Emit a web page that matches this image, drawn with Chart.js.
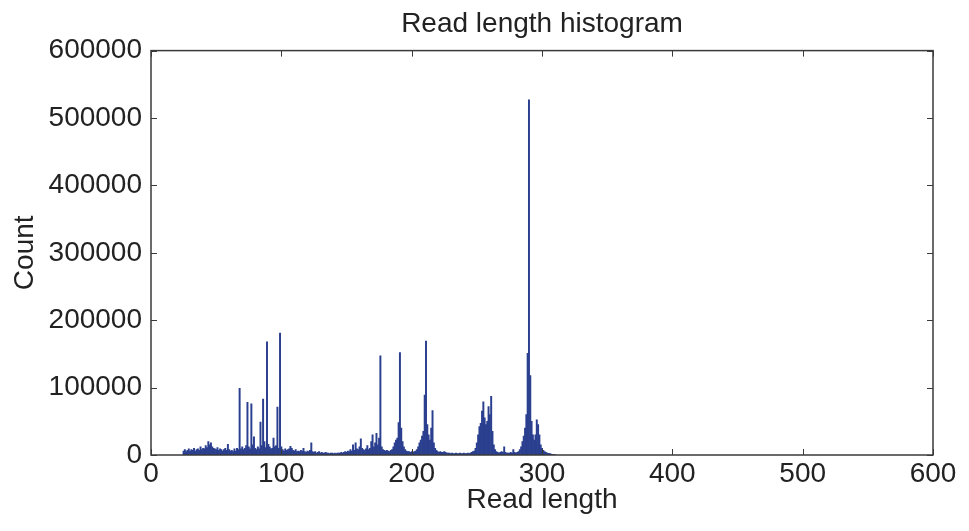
<!DOCTYPE html>
<html>
<head>
<meta charset="utf-8">
<script src="https://cdn.jsdelivr.net/npm/chart.js@4.4.1/dist/chart.umd.min.js"></script>
<style>
html,body{margin:0;padding:0;background:#fff;}
#wrap{width:969px;height:531px;}
</style>
</head>
<body>
<div id="wrap"><canvas id="c" width="969" height="531"></canvas></div>
<script>
const chartTitle = "Read length histogram";
const xAxisTitle = "Read length";
const yAxisTitle = "Count";
const xTicks = [0, 100, 200, 300, 400, 500, 600];
const yTicks = [0, 100000, 200000, 300000, 400000, 500000, 600000];

const readLengths = [
  25,26,27,28,29,30,31,32,33,34,
  35,36,37,38,39,40,41,42,43,44,
  45,46,47,48,49,50,51,52,53,54,
  55,56,57,58,59,60,61,62,63,64,
  65,66,67,68,69,70,71,72,73,74,
  75,76,77,78,79,80,81,82,83,84,
  85,86,87,88,89,90,91,92,93,94,
  95,96,97,98,99,100,101,102,103,104,
  105,106,107,108,109,110,111,112,113,114,
  115,116,117,118,119,120,121,122,123,124,
  125,126,127,128,129,130,131,132,133,134,
  135,136,137,138,139,140,141,142,143,144,
  145,146,147,148,149,150,151,152,153,154,
  155,156,157,158,159,160,161,162,163,164,
  165,166,167,168,169,170,171,172,173,174,
  175,176,177,178,179,180,181,182,183,184,
  185,186,187,188,189,190,191,192,193,194,
  195,196,197,198,199,200,201,202,203,204,
  205,206,207,208,209,210,211,212,213,214,
  215,216,217,218,219,220,221,222,223,224,
  225,226,227,228,229,230,231,232,233,234,
  235,236,237,238,239,240,241,242,243,244,
  245,246,247,248,249,250,251,252,253,254,
  255,256,257,258,259,260,261,262,263,264,
  265,266,267,268,269,270,271,272,273,274,
  275,276,277,278,279,280,281,282,283,284,
  285,286,287,288,289,290,291,292,293,294,
  295,296,297,298,299,300,301,302,303,304,
  305,306,307,308,309,310
];

const counts = [
  6000, 8000, 5000, 7000, 9000, 6000, 8000, 7000, 10000, 6000,
  8000, 9000, 7000, 12000, 8000, 10000, 9000, 14000, 11000, 20000,
  15000, 18000, 12000, 10000, 9000, 8000, 11000, 7000, 9000, 8000,
  6000, 8000, 10000, 7000, 16000, 8000, 6000, 7000, 5000, 9000,
  6000, 10000, 8000, 99000, 9000, 12000, 8000, 10000, 14000, 78000,
  12000, 9000, 76000, 15000, 27000, 10000, 8000, 12000, 9000, 49000,
  14000, 83000, 20000, 11000, 168000, 16000, 12000, 9000, 10000, 25000,
  12000, 14000, 71000, 10000, 181000, 12000, 8000, 6000, 9000, 7000,
  8000, 9000, 13000, 10000, 7000, 6000, 8000, 5000, 6000, 5000,
  7000, 6000, 10000, 5000, 4000, 6000, 5000, 7000, 18000, 5000,
  4000, 5000, 3000, 4000, 5000, 3000, 4000, 3000, 3000, 4000,
  3000, 3000, 2000, 3000, 3000, 2000, 3000, 2000, 3000, 3000,
  3000, 4000, 3000, 4000, 5000, 4000, 6000, 5000, 8000, 6000,
  15000, 7000, 18000, 9000, 8000, 12000, 24000, 10000, 8000, 7000,
  9000, 14000, 8000, 10000, 20000, 30000, 12000, 18000, 32000, 15000,
  25000, 147000, 12000, 8000, 7000, 6000, 7000, 6000, 5000, 7000,
  8000, 12000, 18000, 22000, 25000, 48000, 152000, 40000, 20000, 12000,
  8000, 6000, 5000, 5000, 4000, 5000, 4000, 5000, 6000, 8000,
  12000, 18000, 22000, 28000, 35000, 89000, 169000, 45000, 30000, 22000,
  40000, 66000, 18000, 10000, 7000, 5000, 4000, 5000, 4000, 4000,
  5000, 4000, 3000, 3000, 3000, 2000, 3000, 2000, 2000, 3000,
  2000, 2000, 3000, 2000, 2000, 3000, 2000, 2000, 3000, 2000,
  3000, 4000, 5000, 6000, 10000, 18000, 30000, 42000, 47000, 65000,
  79000, 55000, 45000, 50000, 72000, 60000, 87000, 35000, 15000, 8000,
  5000, 4000, 3000, 4000, 5000, 4000, 12000, 4000, 3000, 3000,
  3000, 4000, 3000, 8000, 4000, 3000, 4000, 5000, 8000, 12000,
  20000, 28000, 40000, 60000, 151000, 527000, 118000, 50000, 30000, 22000,
  30000, 52000, 45000, 30000, 15000, 10000, 7000, 5000, 4000, 3000,
  2500, 2000, 1500, 1000, 800, 500
];

const points = readLengths.map((x, i) => ({x: x, y: counts[i]}));

const FONT = "'Liberation Sans', Arial, Helvetica, sans-serif";

const framePlugin = {
  id: 'frame',
  afterDraw(chart) {
    const {ctx, chartArea: a, scales} = chart;
    ctx.save();
    ctx.strokeStyle = '#3a3a3a';
    ctx.lineWidth = 1.5;
    ctx.strokeRect(a.left, a.top, a.right - a.left, a.bottom - a.top);
    ctx.lineWidth = 1;
    const L = 6;
    xTicks.forEach(v => {
      const px = Math.round(scales.x.getPixelForValue(v)) + 0.5;
      ctx.beginPath();
      ctx.moveTo(px, a.bottom); ctx.lineTo(px, a.bottom - L);
      ctx.moveTo(px, a.top); ctx.lineTo(px, a.top + L);
      ctx.stroke();
    });
    yTicks.forEach(v => {
      const py = Math.round(scales.y.getPixelForValue(v)) + 0.5;
      ctx.beginPath();
      ctx.moveTo(a.left, py); ctx.lineTo(a.left + L, py);
      ctx.moveTo(a.right, py); ctx.lineTo(a.right - L, py);
      ctx.stroke();
    });
    ctx.restore();
  }
};

new Chart(document.getElementById('c'), {
  type: 'bar',
  data: {
    datasets: [{
      data: points,
      backgroundColor: '#2b3f8f',
      borderWidth: 0,
      barPercentage: 1.0,
      categoryPercentage: 1.0
    }]
  },
  options: {
    responsive: false,
    animation: false,
    layout: {padding: {left: 0, right: 36, top: 0, bottom: 0}},
    plugins: {
      legend: {display: false},
      tooltip: {enabled: false},
      title: {
        display: true,
        fullSize: false,
        text: chartTitle,
        color: '#222',
        font: {family: FONT, size: 28, weight: 'normal', lineHeight: 1.2},
        padding: {top: 7, bottom: 10}
      }
    },
    scales: {
      x: {
        type: 'linear',
        min: 0, max: 600,
        offset: false,
        grid: {display: false, drawTicks: false},
        border: {display: false},
        afterBuildTicks: s => { s.ticks = xTicks.map(v => ({value: v})); },
        afterFit: s => { s.height = 76; },
        ticks: {
          color: '#222',
          padding: 5,
          maxRotation: 0,
          autoSkip: false,
          font: {family: FONT, size: 28, lineHeight: 1},
          callback: v => String(v)
        },
        title: {
          display: true,
          text: xAxisTitle,
          color: '#222',
          padding: {top: 0, bottom: 17},
          font: {family: FONT, size: 28, lineHeight: 1}
        }
      },
      y: {
        min: 0, max: 600000,
        grid: {display: false, drawTicks: false},
        border: {display: false},
        afterBuildTicks: s => { s.ticks = yTicks.map(v => ({value: v})); },
        afterFit: s => { s.width = 151; },
        ticks: {
          color: '#222',
          padding: 9,
          autoSkip: false,
          font: {family: FONT, size: 28, lineHeight: 1},
          callback: v => String(v)
        },
        title: {
          display: true,
          text: yAxisTitle,
          color: '#222',
          padding: {top: 11, bottom: 0},
          font: {family: FONT, size: 28, lineHeight: 1}
        }
      }
    }
  },
  plugins: [framePlugin]
});
</script>
</body>
</html>
